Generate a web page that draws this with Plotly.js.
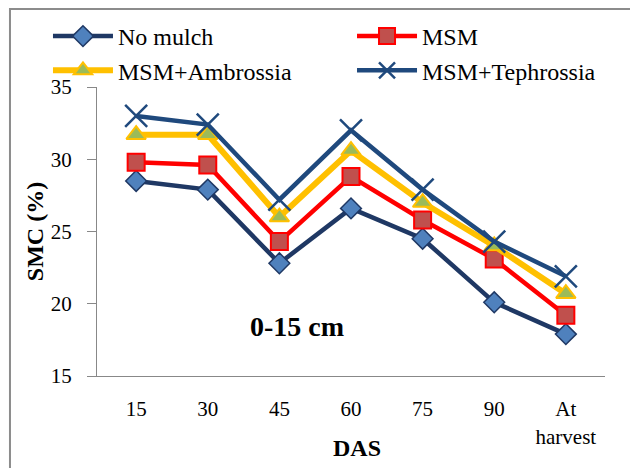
<!DOCTYPE html>
<html><head><meta charset="utf-8">
<script src="https://cdn.plot.ly/plotly-3.0.1.min.js"></script>
<style>html,body{margin:0;padding:0;background:#fff;overflow:hidden}#chart{width:630px;height:468px}</style>
</head><body><div id="chart"></div>
<script>
const categories = ["15", "30", "45", "60", "75", "90", "At<br>harvest"];
const noMulch = [28.5, 27.9, 22.8, 26.6, 24.5, 20.1, 17.9];
const msm = [29.8, 29.6, 24.3, 28.8, 25.8, 23.1, 19.2];
const msmAmbrossia = [31.7, 31.7, 26.0, 30.6, 27.0, 24.0, 20.7];
const msmTephrossia = [33.0, 32.4, 27.2, 32.0, 27.9, 24.3, 21.9];
const seriesNames = ["No mulch", "MSM", "MSM+Ambrossia", "MSM+Tephrossia"];
const xTitle = "DAS";
const yTitle = "SMC (%)";
const depthLabel = "0-15 cm";

const font = "'Liberation Serif', 'Times New Roman', serif";
const traces = [
  {x: categories, y: noMulch, name: seriesNames[0], type: "scatter", mode: "lines+markers", legend: "legend",
   line: {color: "#1F3864", width: 4.5},
   marker: {symbol: "diamond", size: 16, color: "#4F81BD", line: {color: "#1F3864", width: 1.5}}},
  {x: categories, y: msm, name: seriesNames[1], type: "scatter", mode: "lines+markers", legend: "legend2",
   line: {color: "#FF0000", width: 4.5},
   marker: {symbol: "square", size: 17, color: "#C0504D", line: {color: "#FF0000", width: 2}}},
  {x: categories, y: msmAmbrossia, name: seriesNames[2], type: "scatter", mode: "lines+markers", legend: "legend",
   line: {color: "#FFC000", width: 6},
   marker: {symbol: "triangle-up", size: 17, color: "#9BBB59", line: {color: "#FFC000", width: 2}}},
  {x: categories, y: msmTephrossia, name: seriesNames[3], type: "scatter", mode: "lines+markers", legend: "legend2",
   line: {color: "#1F497D", width: 4.5},
   marker: {symbol: "x-thin-open", size: 22, color: "#1F497D", line: {color: "#1F497D", width: 2.5}}}
];

const legendBase = {orientation: "v", xanchor: "left", y: 1.2526, yanchor: "top", itemwidth: 60,
  tracegroupgap: 0, font: {family: font, size: 24, color: "#000"}, bgcolor: "rgba(0,0,0,0)"};

const layout = {
  width: 630, height: 468,
  margin: {l: 97, r: 25, t: 87, b: 92},
  paper_bgcolor: "#fff", plot_bgcolor: "#fff",
  font: {family: font, color: "#000", size: 21},
  showlegend: true,
  legend: Object.assign({}, legendBase, {x: -0.0965}),
  legend2: Object.assign({}, legendBase, {x: 0.502}),
  xaxis: {type: "category", showgrid: false, zeroline: false, showline: true, linecolor: "#888", linewidth: 1,
    ticks: "", ticklabelstandoff: 14, tickfont: {family: font, size: 21}},
  yaxis: {range: [15, 35], dtick: 5, showgrid: false, zeroline: false, showline: true, linecolor: "#888", linewidth: 1,
    ticks: "outside", ticklen: 9, tickcolor: "#888", ticklabelstandoff: 11, tickfont: {family: font, size: 21},
    title: {text: "<b>" + yTitle + "</b>", font: {family: font, size: 24}, standoff: 0}},
  annotations: [
    {text: "<b>" + depthLabel + "</b>", xref: "paper", yref: "paper", x: 0.394, y: 0.1696,
     xanchor: "center", yanchor: "middle", showarrow: false, font: {family: font, size: 28, color: "#000"}},
    {text: "<b>" + xTitle + "</b>", xref: "paper", yref: "paper", x: 0.512, y: -0.249,
     xanchor: "center", yanchor: "middle", showarrow: false, font: {family: font, size: 24, color: "#000"}}
  ],
  shapes: [{type: "rect", xref: "paper", yref: "paper", x0: -0.1713, x1: 1.2, y0: -0.4, y1: 1.27,
    line: {color: "#8C8C8C", width: 2}, fillcolor: "rgba(0,0,0,0)", layer: "below"}]
};
Plotly.newPlot("chart", traces, layout, {displayModeBar: false, staticPlot: true});
</script></body></html>
